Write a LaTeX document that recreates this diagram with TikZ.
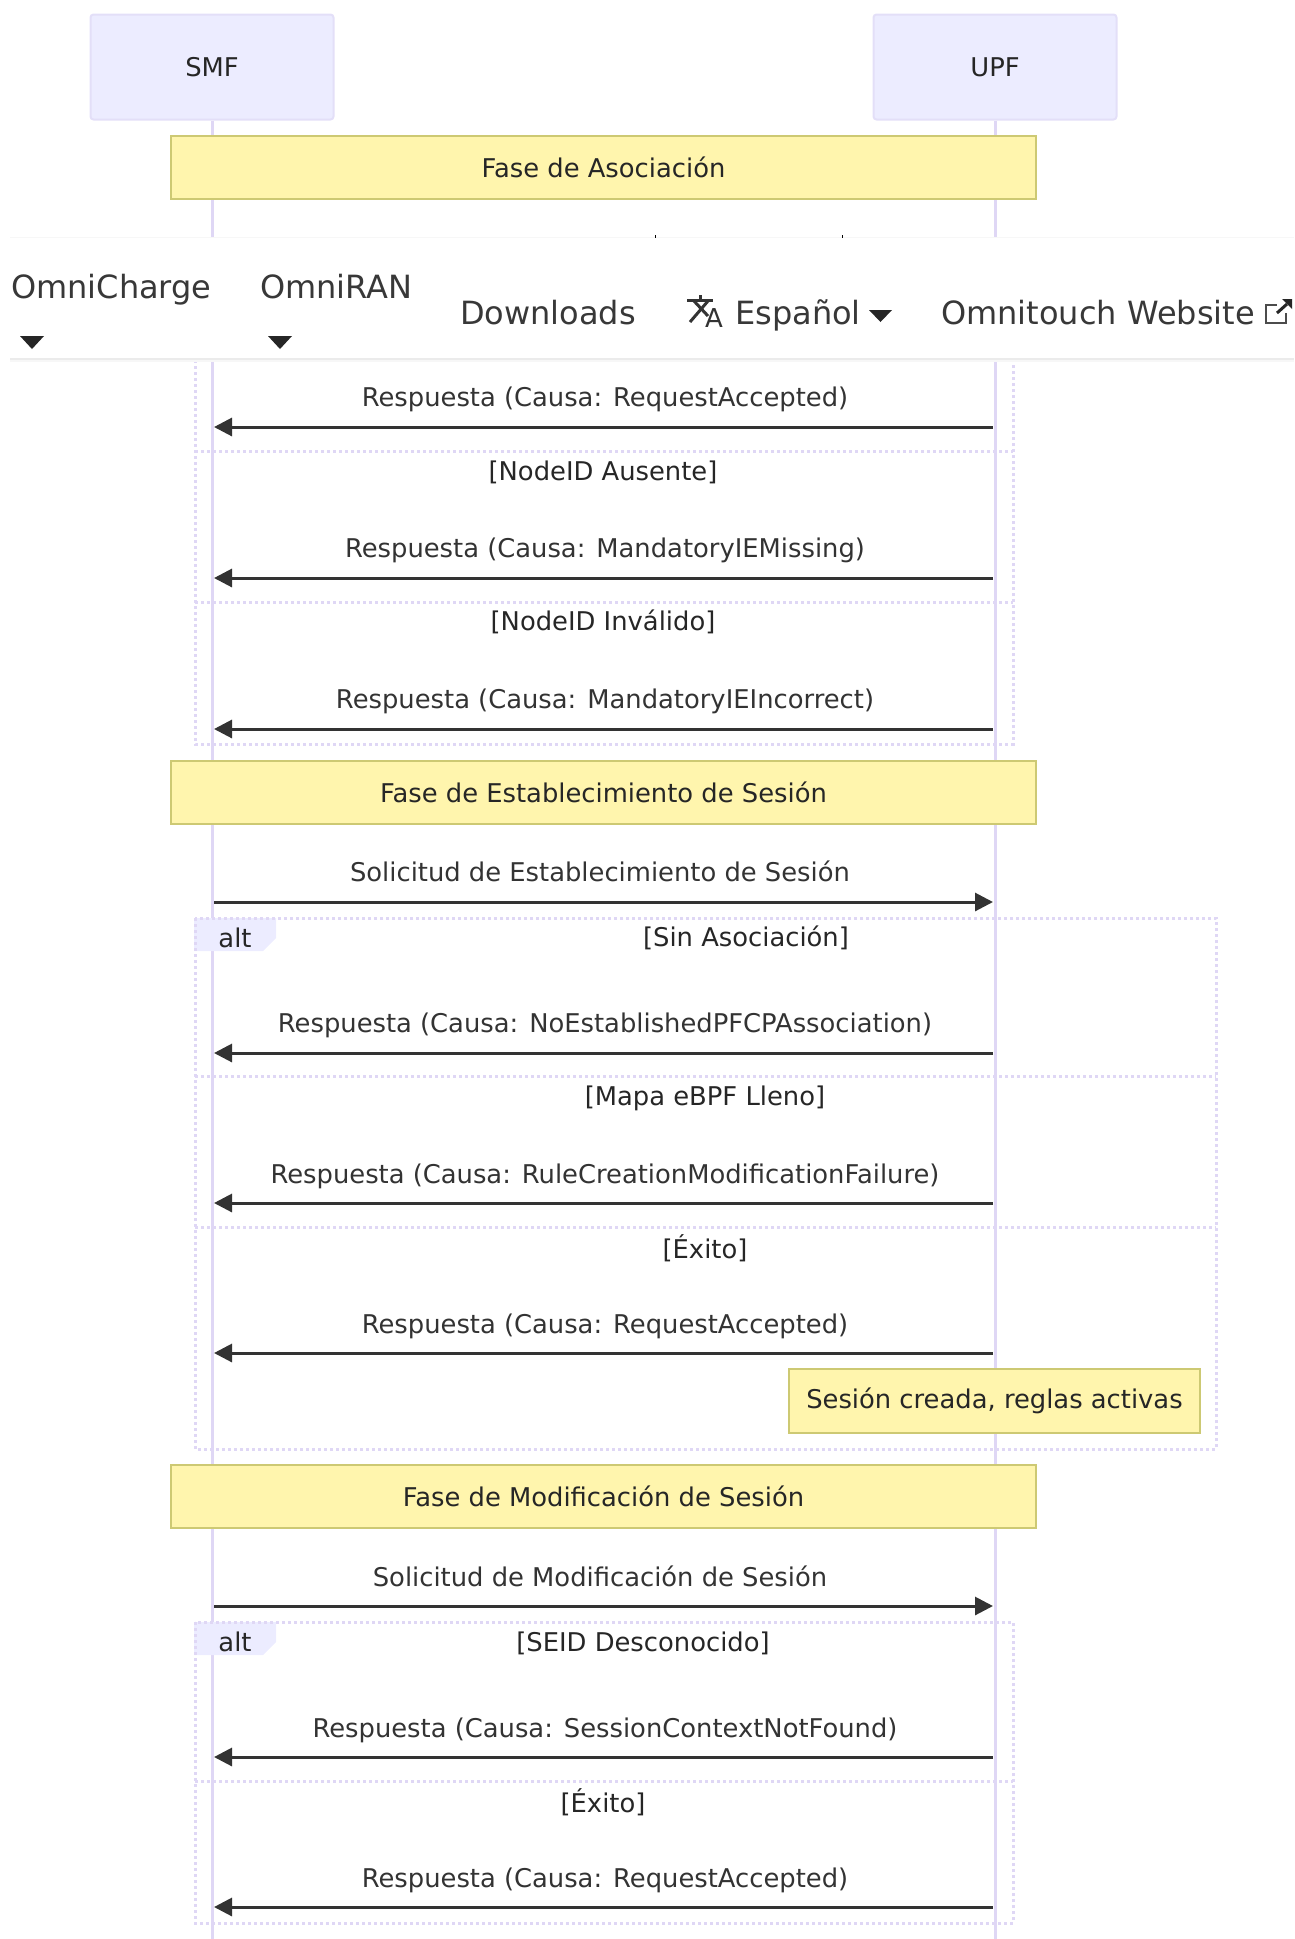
\documentclass[tikz,border=0pt]{standalone}
\usepackage{fontspec}
\setmainfont{DejaVu Sans}
\usetikzlibrary{arrows.meta}
\definecolor{actorfill}{HTML}{ECECFF}
\definecolor{actorline}{HTML}{E3DFF8}
\definecolor{lifeline}{HTML}{DFD7F5}
\definecolor{notefill}{HTML}{FFF5AD}
\definecolor{noteline}{HTML}{CDC973}
\definecolor{msgcolor}{HTML}{333333}
\tikzset{
    actor/.style = {draw = actorline, fill = actorfill, line width = 2pt, rounded corners = 3pt, minimum width = 243pt, minimum height = 105pt, text = black!85, font = \fontsize{25.8}{30}\selectfont},
    band/.style = {draw = noteline, fill = notefill, line width = 2pt, minimum height = 63pt, minimum width = 865pt, inner sep = 0pt, text = black!85, font = \fontsize{25.8}{30}\selectfont},
    life/.style = {lifeline, line width = 3pt},
    msg/.style = {msgcolor, line width = 3pt, -{Triangle[length = 18pt, width = 18pt]}},
    msgtext/.style = {text = msgcolor, inner sep = 0pt, font = \fontsize{25.8}{30}\selectfont},
    guard/.style = {text = black!85, inner sep = 0pt, font = \fontsize{25.8}{30}\selectfont},
    frameline/.style = {lifeline, line width = 3pt, dash pattern = on 3pt off 3pt},
    navtext/.style = {text = black!78, inner sep = 0pt, anchor = base west, font = \fontsize{32}{38}\selectfont},
    navicon/.style = {black!80, line width = 3pt}
}
\begin{document}
\begin{tikzpicture}[x = 1pt, y = -1pt]
    \useasboundingbox (0, 0) rectangle (1294, 1939);
    % lifelines
    \node[actor] (smf) at (212, 67) {SMF};
    \node[actor] (upf) at (995, 67) {UPF};
    \coordinate (smfend) at (212, 1939);
    \coordinate (upfend) at (995, 1939);
    \draw[life] (smf) -- (smfend);
    \draw[life] (upf) -- (upfend);

    % alt frames
    \fill[actorfill] (194, 918) -- (276, 918) -- (276, 938) -- (263, 951) -- (194, 951) -- cycle;
    \fill[actorfill] (194, 1622) -- (276, 1622) -- (276, 1642) -- (263, 1655) -- (194, 1655) -- cycle;
    \draw[frameline] (195, 300) rectangle (1013, 744);
    \draw[frameline] (195, 451) -- (1013, 451);
    \draw[frameline] (195, 602) -- (1013, 602);
    \draw[frameline] (195, 918) rectangle (1216, 1449);
    \draw[frameline] (195, 1076) -- (1216, 1076);
    \draw[frameline] (195, 1227) -- (1216, 1227);
    \draw[frameline] (195, 1622) rectangle (1013, 1923);
    \draw[frameline] (195, 1781) -- (1013, 1781);
    \node[guard] (alta) at (235, 938) {alt};
    \node[guard] (altb) at (235, 1642) {alt};

    % phase bands
    \node[band] (fasea) at (603.5, 167) {\raisebox{-1.5pt}{Fase de Asociación}};
    \node[band] (faseb) at (603.5, 792.5) {Fase de Establecimiento de Sesión};
    \node[band] (fasec) at (603.5, 1496.5) {Fase de Modificación de Sesión};

    % guards
    \node[guard] (ga) at (603, 472) {[NodeID Ausente]};
    \node[guard] (gb) at (603, 622) {[NodeID Inválido]};
    \node[guard] (gc) at (746, 938) {[Sin Asociación]};
    \node[guard] (gd) at (705, 1098) {[Mapa eBPF Lleno]};
    \node[guard] (ge) at (705, 1248) {[Éxito]};
    \node[guard] (gf) at (643, 1643) {[SEID Desconocido]};
    \node[guard] (gg) at (603, 1802) {[Éxito]};

    % messages
    \coordinate (smfa) at (214, 427);  \coordinate (upfa) at (993, 427);
    \coordinate (smfb) at (214, 578);  \coordinate (upfb) at (993, 578);
    \coordinate (smfc) at (214, 729);  \coordinate (upfc) at (993, 729);
    \coordinate (smfd) at (214, 902);  \coordinate (upfd) at (993, 902);
    \coordinate (smfe) at (214, 1053); \coordinate (upfe) at (993, 1053);
    \coordinate (smff) at (214, 1203); \coordinate (upff) at (993, 1203);
    \coordinate (smfg) at (214, 1353); \coordinate (upfg) at (993, 1353);
    \coordinate (smfh) at (214, 1606); \coordinate (upfh) at (993, 1606);
    \coordinate (smfi) at (214, 1757); \coordinate (upfi) at (993, 1757);
    \coordinate (smfj) at (214, 1907); \coordinate (upfj) at (993, 1907);
    \draw[msg] (upfa) -- (smfa);
    \draw[msg] (upfb) -- (smfb);
    \draw[msg] (upfc) -- (smfc);
    \draw[msg] (smfd) -- (upfd);
    \draw[msg] (upfe) -- (smfe);
    \draw[msg] (upff) -- (smff);
    \draw[msg] (upfg) -- (smfg);
    \draw[msg] (smfh) -- (upfh);
    \draw[msg] (upfi) -- (smfi);
    \draw[msg] (upfj) -- (smfj);
    \node[msgtext] (ma) at (605, 399) {Respuesta (Causa: RequestAccepted)};
    \node[msgtext] (mb) at (605, 550) {Respuesta (Causa: MandatoryIEMissing)};
    \node[msgtext] (mc) at (605, 701) {Respuesta (Causa: MandatoryIEIncorrect)};
    \node[msgtext] (md) at (600, 871) {Solicitud de Establecimiento de Sesión};
    \node[msgtext] (me) at (605, 1025) {Respuesta (Causa: NoEstablishedPFCPAssociation)};
    \node[msgtext] (mf) at (605, 1176) {Respuesta (Causa: RuleCreationModificationFailure)};
    \node[msgtext] (mg) at (605, 1326) {Respuesta (Causa: RequestAccepted)};
    \node[msgtext] (mh) at (600, 1576) {Solicitud de Modificación de Sesión};
    \node[msgtext] (mi) at (605, 1730) {Respuesta (Causa: SessionContextNotFound)};
    \node[msgtext] (mj) at (605, 1880) {Respuesta (Causa: RequestAccepted)};

    % note
    \node[band, minimum width = 411pt, minimum height = 64pt] (nota) at (994.5, 1401) {\raisebox{-2.5pt}{Sesión creada, reglas activas}};

    % navbar on top
    \fill[white] (10, 237) rectangle (1294, 358);
    \draw[black!8, line width = 2pt] (10, 359) -- (1294, 359);
    \draw[black!3, line width = 2pt] (10, 361) -- (1294, 361);
    \draw[black!3, line width = 1pt] (10, 237) -- (1294, 237);
    \draw[black, line width = 1pt] (655, 235) -- (655, 238);
    \draw[black, line width = 1pt] (842, 235) -- (842, 238);
    \node[navtext] (nava) at (11, 298) {OmniCharge};
    \node[navtext] (navb) at (260, 298) {OmniRAN};
    \node[navtext] (navc) at (460, 324) {Downloads};
    \node[navtext] (navd) at (735, 324) {Español};
    \node[navtext] (nave) at (941, 324) {Omnitouch Website};
    % translate icon
    \draw[navicon] (687, 300) -- (713, 300);
    \draw[navicon] (700, 295) -- (700, 300);
    \draw[navicon] (694, 301) -- (708, 316);
    \draw[navicon] (708, 301) -- (690, 322);
    \node[inner sep = 0pt, text = black!80, font = \fontsize{26}{28}\selectfont] (navj) at (714, 318) {A};
    \fill[black!85] (20, 336) -- (44, 336) -- (32, 349) -- cycle;
    \fill[black!85] (268, 336) -- (292, 336) -- (280, 349) -- cycle;
    \fill[black!85] (869, 310) -- (892, 310) -- (880.5, 322) -- cycle;
    % link icon
    \draw[black!70, line width = 2.5pt] (1277, 305) -- (1266, 305) -- (1266, 323) -- (1286, 323) -- (1286, 313);
    \draw[black!85, line width = 3pt] (1277, 313) -- (1287, 304);
    \fill[black!85] (1282, 299) -- (1292, 299) -- (1292, 309) -- cycle;
\end{tikzpicture}
\end{document}
